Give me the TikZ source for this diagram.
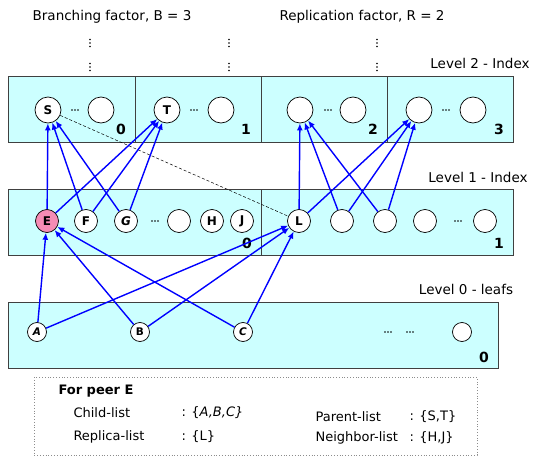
\documentclass[tikz,border=0pt]{standalone}
\usepackage{fontspec}
\setmainfont{DejaVu Sans}
\usetikzlibrary{arrows.meta}
\definecolor{panelfill}{RGB}{204,255,255}
\definecolor{peerpink}{RGB}{245,140,180}
\definecolor{linkblue}{RGB}{0,0,255}
\begin{document}
\begin{tikzpicture}[x=1pt,y=-1pt,
  panel/.style={draw=black!75, fill=panelfill, line width=0.9pt},
  divider/.style={draw=black!75, line width=0.9pt},
  bigpeer/.style={circle, draw, fill=white, line width=0.7pt, minimum size=26pt, inner sep=0pt, font=\bfseries\fontsize{12}{14}\selectfont},
  midpeer/.style={circle, draw, fill=white, line width=0.7pt, minimum size=23pt, inner sep=0pt, font=\bfseries\fontsize{12}{14}\selectfont},
  leafpeer/.style={circle, draw, fill=white, line width=0.7pt, minimum size=19pt, inner sep=0pt, font=\bfseries\fontsize{10.5}{12}\selectfont},
  link/.style={draw=linkblue, line width=1.4pt, -{Latex[length=7pt,width=6pt]}},
  sectionno/.style={font=\bfseries\fontsize{14}{16}\selectfont},
  caption/.style={font=\fontsize{13.5}{16}\selectfont},
  listtext/.style={font=\fontsize{13}{15}\selectfont, anchor=west},
]
\useasboundingbox (0,0) rectangle (539,458);

% headings
\node[caption] (bf) at (112,17) {Branching factor, B = 3};
\node[caption] (rf) at (362,17) {Replication factor, R = 2};

% vertical ellipses above level 2
\foreach \x in {90,229,377}{
  \foreach \y in {43,67}{
    \foreach \d in {-3.5,0,3.5}{
      \fill (\x,\y+\d) circle (0.9);
    }
  }
}

% level labels
\node[caption] (l2) at (480,63) {Level 2 - Index};
\node[caption] (l1) at (478,177) {Level 1 - Index};
\node[caption] (l0) at (466,289) {Level 0 - leafs};

% panels
\path[panel] (8,76) rectangle (513,142);
\draw[divider] (135,76) -- (135,142) (261,76) -- (261,142) (387,76) -- (387,142);
\path[panel] (8,189) rectangle (513,255);
\draw[divider] (261,189) -- (261,255);
\path[panel] (8,302) rectangle (498,368);

% section numbers
\node[sectionno] (n20) at (121,129) {0};
\node[sectionno] (n21) at (246,129) {1};
\node[sectionno] (n22) at (373,129) {2};
\node[sectionno] (n23) at (499,129) {3};
\node[sectionno] (n10) at (247,243) {0};
\node[sectionno] (n11) at (499,243) {1};
\node[sectionno] (n00) at (484,357) {0};

% three-dot ellipses between peers
\foreach \x/\y in {75/110, 194/110, 328/110, 446/110, 155/221, 458/221, 388/332, 410/332}{
  \foreach \d in {-3,0,3}{
    \fill (\x+\d,\y) circle (0.95);
  }
}

% level 2 peers
\node[bigpeer] (S)  at (48,110) {S};
\node[bigpeer] (S2) at (101,110) {};
\node[bigpeer] (T)  at (167,110) {T};
\node[bigpeer] (T2) at (221,110) {};
\node[bigpeer] (U)  at (300,110) {};
\node[bigpeer] (U2) at (353,110) {};
\node[bigpeer] (V)  at (419,110) {};
\node[bigpeer] (V2) at (473,110) {};

% level 1 peers
\node[midpeer, fill=peerpink] (E) at (47,221) {E};
\node[midpeer] (F) at (86,221) {F};
\node[midpeer] (G) at (126,221) {\itshape G};
\node[midpeer] (K) at (179,221) {};
\node[midpeer] (H) at (212,221) {H};
\node[midpeer] (J) at (242,221) {J};
\node[midpeer] (L) at (299,221) {L};
\node[midpeer] (M) at (342,221) {};
\node[midpeer] (N) at (385,221) {};
\node[midpeer] (P) at (425,221) {};
\node[midpeer] (Q) at (485,221) {};

% level 0 peers
\node[leafpeer] (A) at (37,332) {\itshape A};
\node[leafpeer] (B) at (140,332) {B};
\node[leafpeer] (C) at (243,332) {\itshape C};
\node[leafpeer] (Z) at (462,332) {};

% replica relation
\draw[line width=0.5pt, dash pattern=on 3pt off 2pt] (S) -- (L);

% child-to-parent links
\foreach \c in {E,F,G}{
  \draw[link] (\c) -- (S);
  \draw[link] (\c) -- (T);
}
\foreach \c in {L,M,N}{
  \draw[link] (\c) -- (U);
  \draw[link] (\c) -- (V);
}
\foreach \c in {A,B,C}{
  \draw[link] (\c) -- (E);
  \draw[link] (\c) -- (L);
}

% peer E summary
\draw[black!45, dotted, line width=0.8pt] (34,377) rectangle (477,455);
\node[font=\fontsize{13}{15}\selectfont\bfseries, anchor=west] (hd) at (55,391) {For peer E};
\node[listtext] (cl) at (70,413) {Child-list};
\node[listtext] (cv) at (178,413) {: \{\itshape A,B,C\}};
\node[listtext] (rl) at (70,437) {Replica-list};
\node[listtext] (rv) at (178,437) {: \{L\}};
\node[listtext] (pl) at (312,417) {Parent-list};
\node[listtext] (pv) at (406,417) {: \{S,T\}};
\node[listtext] (nl) at (312,438) {Neighbor-list};
\node[listtext] (nv) at (406,438) {: \{H,J\}};
\end{tikzpicture}
\end{document}
